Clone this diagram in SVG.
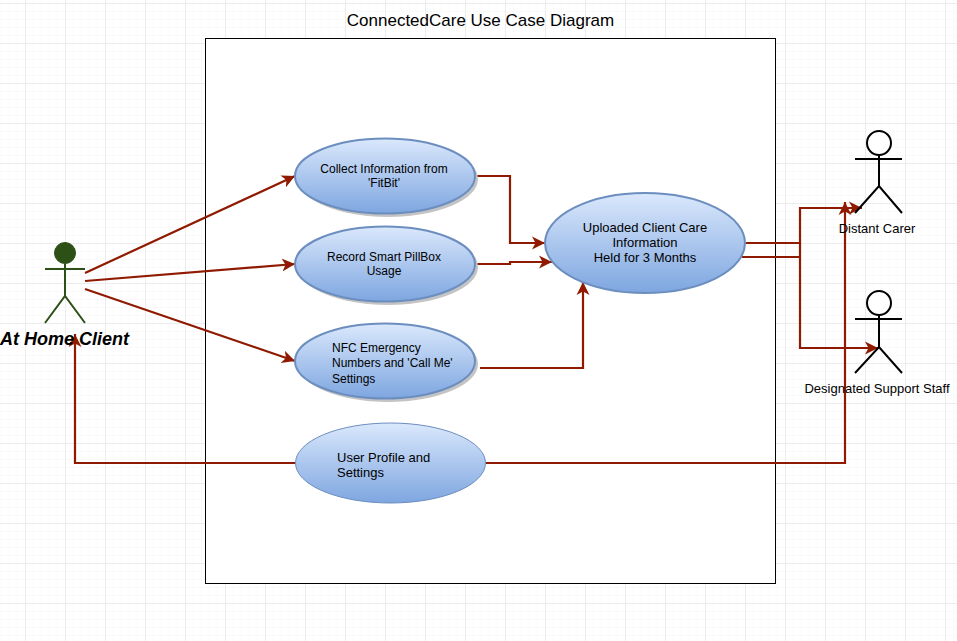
<svg xmlns="http://www.w3.org/2000/svg" width="957" height="641" viewBox="0 0 957 641">
<style>
.t{font-family:"Liberation Sans",Arial,sans-serif;font-size:12px;fill:#000}
.l{font-size:13px}
.c{text-anchor:middle}
.e{fill:url(#g);stroke:#6c8ebf;stroke-width:2}
.s{fill:#c4c4c4}
.k{fill:none;stroke:#8f1a00;stroke-width:2.2;marker-end:url(#a)}
.n{fill:none;stroke:#8f1a00;stroke-width:2.2}
.b{fill:none;stroke:#000;stroke-width:2}
.gr{fill:none;stroke:#2d5016;stroke-width:2}
</style>
<defs>
<linearGradient id="g" x1="0" y1="0" x2="0" y2="1"><stop offset="0" stop-color="#dae8fc"/><stop offset="1" stop-color="#7ea6e0"/></linearGradient>
<marker id="a" markerUnits="userSpaceOnUse" markerWidth="16" markerHeight="16" refX="13" refY="7" orient="auto"><path d="M0 0.500L13 7L0 13.500L3.500 7Z" fill="#8f1a00"/></marker>
<pattern id="m" width="8" height="8" patternUnits="userSpaceOnUse" x="1" y="3"><path d="M.5 0V8M0 .5H8" fill="none" stroke="#fafafa"/></pattern>
<pattern id="M" width="40" height="40" patternUnits="userSpaceOnUse" x="25" y="3"><path d="M.5 0V40M0 .5H40" fill="none" stroke="#ececec"/></pattern>
</defs>
<rect width="957" height="641" fill="#fff"/>
<rect width="957" height="641" fill="url(#m)"/>
<rect width="957" height="641" fill="url(#M)"/>
<rect x="205.500" y="38.500" width="570" height="545" fill="#fff" stroke="#000"/>
<text class="t c" x="480.500" y="26" style="font-size:17px">ConnectedCare Use Case Diagram</text>
<g id="connectors">
<path class="k" d="M85 273L295 176"/>
<path class="k" d="M85 281L295 264"/>
<path class="k" d="M85 289L295 361"/>
<path class="k" d="M476 176H510V243H545"/>
<path class="k" d="M476 264H510V262H552"/>
<path class="k" d="M480 368H583V282"/>
<path class="k" d="M295 463H75V334"/>
<path class="k" d="M486 463H845V202"/>
<path class="k" d="M746 243H800V208H862"/>
<path class="n" d="M742 257H800"/>
<path class="k" d="M800 243V348H878"/>
</g>
<g id="uc-collect"><ellipse class="s" cx="388" cy="179" rx="90" ry="38"/><ellipse class="e" cx="385" cy="176" rx="90" ry="37.500"/><text class="t c" x="384" y="173">Collect Information from</text><text class="t c" x="384" y="187">'FitBit'</text></g>
<g id="uc-record"><ellipse class="s" cx="388" cy="267" rx="90" ry="38"/><ellipse class="e" cx="385" cy="264" rx="90" ry="37.500"/><text class="t c" x="384" y="261">Record Smart PillBox</text><text class="t c" x="384" y="275">Usage</text></g>
<g id="uc-nfc"><ellipse class="s" cx="388" cy="364" rx="90" ry="38"/><ellipse class="e" cx="385" cy="361" rx="90" ry="37.500"/><text class="t" x="332" y="352">NFC Emergency</text><text class="t" x="332" y="367">Numbers and 'Call Me'</text><text class="t" x="332" y="383">Settings</text></g>
<g id="uc-profile"><ellipse cx="390.500" cy="463" rx="95" ry="40" fill="url(#g)" stroke="#6c8ebf"/><text class="t l" x="337" y="462">User Profile and</text><text class="t l" x="337" y="477">Settings</text></g>
<g id="uc-upload"><ellipse class="e" cx="645" cy="243" rx="100" ry="50"/><text class="t c l" x="645" y="232">Uploaded Client Care</text><text class="t c l" x="645" y="247">Information</text><text class="t c l" x="645" y="262">Held for 3 Months</text></g>
<g id="actor-client"><circle cx="65" cy="253" r="10.500" fill="#2d5016" stroke="#2d5016"/><path class="gr" d="M45 269H85M65 264V296M45 323L65 296L85 323"/><text class="t" x="0" y="345" style="font-size:18px;font-weight:bold;font-style:italic">At Home Client</text></g>
<g id="actor-carer"><circle cx="879" cy="143" r="12" fill="#fff" stroke="#000" stroke-width="2"/><path class="b" d="M855 159H902M879 155V186M855 213L879 186L902 213"/><text class="t c l" x="877" y="233">Distant Carer</text></g>
<g id="actor-staff"><circle cx="879" cy="303" r="12" fill="#fff" stroke="#000" stroke-width="2"/><path class="b" d="M855 319H902M879 315V347M855 373L879 347L902 373"/><text class="t c l" x="877" y="393">Designated Support Staff</text></g>
</svg>
